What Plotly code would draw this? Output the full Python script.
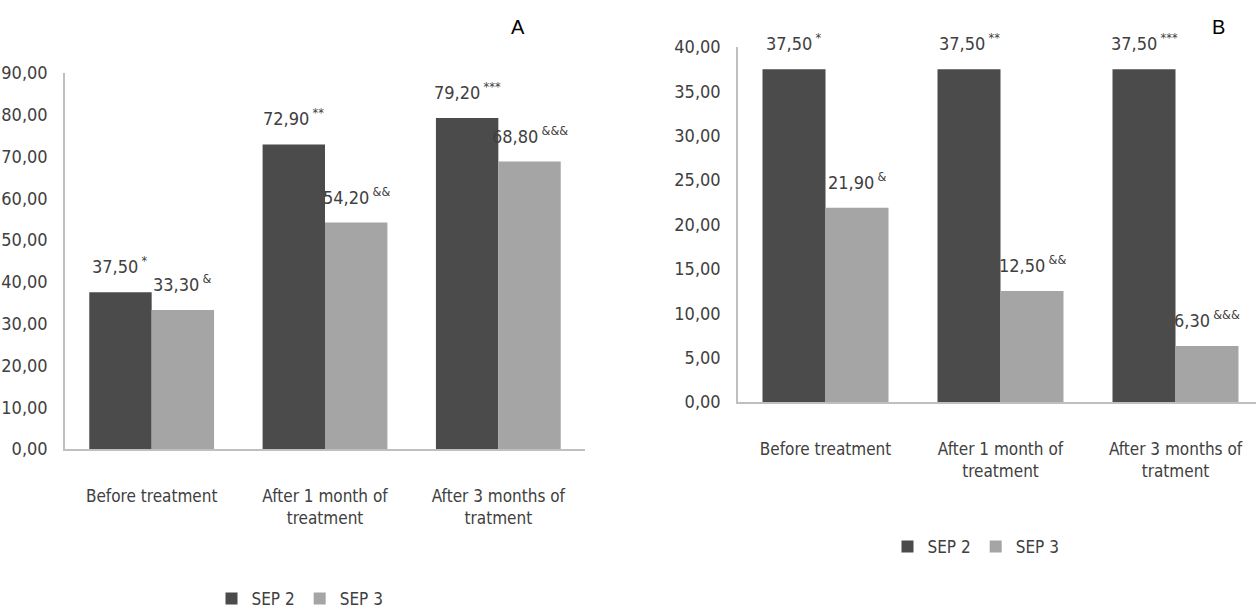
import plotly.graph_objects as go

# Categories and values for both panels
categories = ["Before treatment", "After 1 month of<br>treatment", "After 3 months of<br>tratment"]

sep2_a = [37.50, 72.90, 79.20]
sep3_a = [33.30, 54.20, 68.80]
sep2_b = [37.50, 37.50, 37.50]
sep3_b = [21.90, 12.50, 6.30]

# Significance marks shown after each value
marks_sep2 = ["*", "**", "***"]
marks_sep3 = ["&", "&&", "&&&"]

series_names = ["SEP 2", "SEP 3"]
panel_labels = ["A", "B"]

DARK = "#4b4b4b"
LIGHT = "#a5a5a5"
TEXT = "#404040"
AXIS = "#bfbfbf"
FONT = "DejaVu Sans Condensed, Liberation Sans Narrow, Arial Narrow, sans-serif"

BARGAP = 0.28
HALF = (1 - BARGAP) / 4  # centre offset of each bar inside a group

fig = go.Figure()

panels = [
    ("x", "y", "legend", sep2_a, sep3_a),
    ("x2", "y2", "legend2", sep2_b, sep3_b),
]
for xa, ya, lg, s2, s3 in panels:
    for name, vals, col in ((series_names[0], s2, DARK), (series_names[1], s3, LIGHT)):
        fig.add_trace(go.Bar(
            x=categories, y=vals, name=name, marker=dict(color=col, line=dict(width=0)),
            xaxis=xa, yaxis=ya, legend=lg, showlegend=True,
        ))


def fmt(v):
    return f"{v:.2f}".replace(".", ",")


annotations = []
for xa, ya, _, s2, s3 in panels:
    for vals, marks, off in ((s2, marks_sep2, -HALF), (s3, marks_sep3, HALF)):
        for i, (v, m) in enumerate(zip(vals, marks)):
            annotations.append(dict(
                x=i + off, y=v, xref=xa, yref=ya,
                text=f"{fmt(v)}\u2009<sup>{m}</sup>", showarrow=False,
                yanchor="middle", yshift=27,
                font=dict(family=FONT, size=18, color=TEXT),
            ))

for label, px in zip(panel_labels, (518, 1218)):
    annotations.append(dict(x=px / 1256, y=1 - 27 / 609, xref="paper", yref="paper",
                            xanchor="center", yanchor="middle",
                            text=label, showarrow=False,
                            font=dict(family="Liberation Sans, Arial, sans-serif", size=20, color="#000000")))

xcommon = dict(type="category", showline=True, linecolor=AXIS, linewidth=1.5,
               showgrid=False, zeroline=False, ticks="", ticklabelstandoff=31,
               automargin=False,
               tickfont=dict(family=FONT, size=17, color=TEXT))
ycommon = dict(showline=True, linecolor=AXIS, linewidth=1.5, showgrid=False,
               zeroline=False, ticks="", tickformat=".2f", ticklabelstandoff=12,
               automargin=False,
               tickfont=dict(family=FONT, size=18, color=TEXT))

fig.update_layout(
    width=1256, height=609,
    margin=dict(l=0, r=0, t=0, b=0, autoexpand=False),
    paper_bgcolor="white", plot_bgcolor="white",
    separators=", ",
    barmode="group", bargap=BARGAP, bargroupgap=0,
    xaxis=dict(domain=[65 / 1256, 585 / 1256], range=[-0.5, 2.5], anchor="y", **xcommon),
    yaxis=dict(domain=[1 - 449 / 609, 1 - 73 / 609], range=[0, 90], dtick=10, anchor="x", **ycommon),
    xaxis2=dict(domain=[738 / 1256, 1.0], range=[-0.5, 2.46], anchor="y2", **xcommon),
    yaxis2=dict(domain=[1 - 402 / 609, 1 - 47 / 609], range=[0, 40], dtick=5, anchor="x2", **ycommon),
    legend=dict(orientation="h", x=300 / 1256, xanchor="center", y=1 - 599 / 609, yanchor="middle",
                font=dict(family=FONT, size=17, color=TEXT), itemwidth=30, bgcolor="rgba(0,0,0,0)"),
    legend2=dict(orientation="h", x=976 / 1256, xanchor="center", y=1 - 547 / 609, yanchor="middle",
                 font=dict(family=FONT, size=17, color=TEXT), itemwidth=30, bgcolor="rgba(0,0,0,0)"),
    annotations=annotations,
)

fig.write_html("out.html")
